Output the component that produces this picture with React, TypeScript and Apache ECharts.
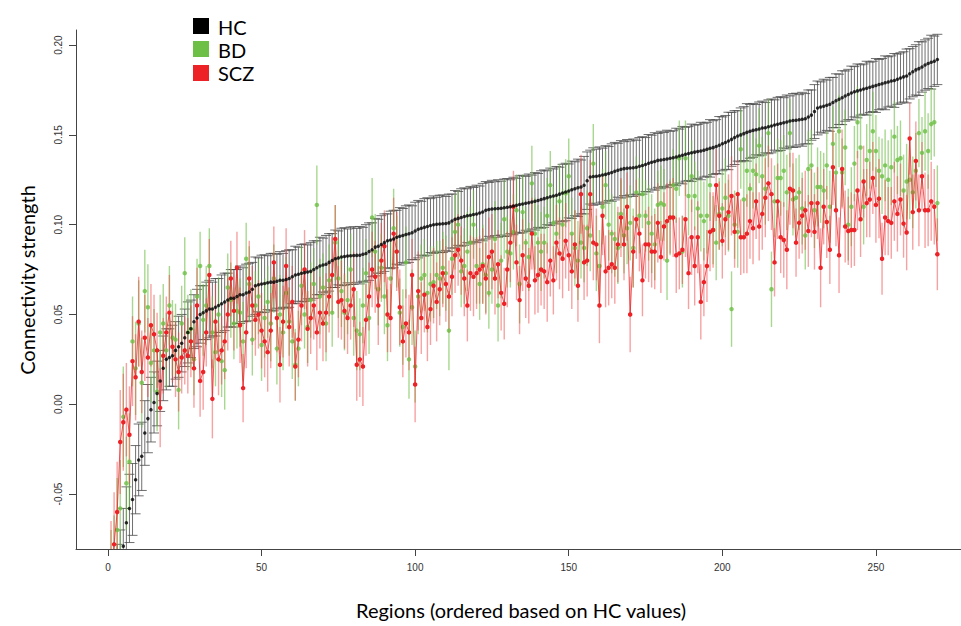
import React, { useEffect, useRef } from "react";
import * as echarts from "echarts";

// Connectivity strength per region (regions ordered by HC value)
const HC = [
  -0.130,-0.115,-0.100,-0.090,-0.079,-0.066,-0.058,-0.053,-0.042,-0.031,
  -0.029,-0.016,-0.008,-0.003,0.001,0.006,0.013,0.020,0.025,0.026,
  0.027,0.030,0.032,0.034,0.037,0.040,0.042,0.046,0.048,0.050,
  0.051,0.052,0.053,0.053,0.054,0.055,0.056,0.057,0.058,0.059,
  0.059,0.060,0.061,0.061,0.062,0.0625,0.064,0.066,0.0665,0.067,
  0.0672,0.0677,0.068,0.068,0.0685,0.069,0.069,0.0695,0.070,0.071,
  0.072,0.0724,0.073,0.0733,0.0737,0.074,0.075,0.076,0.077,0.0775,
  0.078,0.079,0.080,0.081,0.0815,0.082,0.0823,0.0826,0.0827,0.0828,
  0.0829,0.083,0.0835,0.084,0.085,0.086,0.0875,0.088,0.089,0.090,
  0.091,0.0915,0.092,0.093,0.0935,0.094,0.0945,0.095,0.0955,0.0965,
  0.0975,0.098,0.0985,0.099,0.0995,0.100,0.1002,0.1004,0.1005,0.1007,
  0.101,0.102,0.103,0.1035,0.104,0.1045,0.105,0.1053,0.1057,0.106,
  0.1065,0.107,0.108,0.1085,0.1087,0.1089,0.109,0.1092,0.1094,0.1097,
  0.110,0.1104,0.1108,0.1112,0.1115,0.1119,0.1122,0.1126,0.113,0.1135,
  0.114,0.1145,0.115,0.1155,0.116,0.1164,0.117,0.1176,0.1182,0.1188,
  0.1194,0.120,0.1205,0.121,0.122,0.1245,0.1265,0.1268,0.127,0.1273,
  0.1276,0.128,0.1285,0.129,0.1298,0.1303,0.1308,0.1312,0.1314,0.1316,
  0.1317,0.132,0.1325,0.133,0.1335,0.1342,0.1348,0.1352,0.1358,0.136,
  0.1363,0.1366,0.137,0.1373,0.1377,0.1382,0.1387,0.1392,0.1396,0.140,
  0.1404,0.1408,0.141,0.1415,0.142,0.1425,0.1429,0.1435,0.1442,0.145,
  0.1458,0.1466,0.1475,0.1485,0.1494,0.150,0.1507,0.1514,0.152,0.1525,
  0.1529,0.1533,0.1538,0.154,0.1545,0.155,0.1555,0.1559,0.1563,0.1567,
  0.1572,0.1577,0.158,0.1582,0.1584,0.1587,0.159,0.160,0.161,0.163,
  0.165,0.1655,0.166,0.1665,0.167,0.168,0.169,0.1698,0.1707,0.1716,
  0.1725,0.1733,0.174,0.1745,0.175,0.1755,0.176,0.1765,0.177,0.1775,
  0.178,0.1785,0.179,0.1795,0.180,0.1803,0.181,0.1817,0.1823,0.1828,
  0.184,0.1852,0.1862,0.1869,0.1878,0.1889,0.1898,0.1905,0.191,0.192
];

const BD = [
  -0.100,-0.090,-0.070,-0.058,-0.007,-0.044,-0.032,0.035,0.020,0.045,
  0.012,0.063,0.054,0.023,0.030,0.007,0.040,0.045,0.030,0.055,
  0.037,0.036,0.008,0.045,0.073,0.040,0.042,0.025,0.060,0.077,
  0.047,0.055,0.077,0.040,0.029,0.050,0.024,0.019,0.065,0.058,
  0.045,0.052,0.051,0.035,0.081,0.067,0.036,0.055,0.060,0.033,
  0.048,0.057,0.045,0.070,0.031,0.050,0.040,0.062,0.046,0.035,
  0.022,0.031,0.066,0.050,0.043,0.058,0.067,0.111,0.060,0.065,
  0.045,0.069,0.051,0.090,0.070,0.063,0.051,0.058,0.075,0.048,
  0.041,0.039,0.055,0.073,0.048,0.104,0.085,0.064,0.076,0.060,
  0.044,0.070,0.098,0.085,0.051,0.043,0.079,0.025,0.054,0.021,
  0.060,0.070,0.072,0.062,0.067,0.068,0.072,0.070,0.076,0.073,
  0.041,0.081,0.096,0.100,0.074,0.077,0.085,0.090,0.100,0.077,
  0.067,0.078,0.072,0.062,0.075,0.092,0.055,0.080,0.103,0.085,
  0.084,0.096,0.108,0.067,0.107,0.090,0.082,0.123,0.095,0.090,
  0.085,0.090,0.105,0.122,0.101,0.095,0.113,0.100,0.1175,0.127,
  0.095,0.087,0.080,0.090,0.087,0.098,0.094,0.134,0.084,0.077,
  0.110,0.122,0.100,0.095,0.092,0.087,0.106,0.094,0.098,0.101,
  0.087,0.118,0.105,0.117,0.105,0.101,0.095,0.089,0.111,0.112,
  0.111,0.080,0.104,0.122,0.120,0.137,0.085,0.137,0.116,0.127,
  0.116,0.109,0.105,0.102,0.105,0.122,0.097,0.090,0.106,0.109,
  0.115,0.105,0.053,0.100,0.096,0.142,0.114,0.130,0.120,0.130,
  0.128,0.144,0.127,0.120,0.151,0.064,0.113,0.126,0.126,0.130,
  0.118,0.151,0.114,0.115,0.118,0.109,0.094,0.131,0.133,0.108,
  0.121,0.121,0.119,0.133,0.110,0.145,0.129,0.152,0.129,0.143,
  0.100,0.110,0.134,0.157,0.143,0.110,0.136,0.141,0.152,0.141,
  0.130,0.127,0.133,0.125,0.132,0.149,0.136,0.137,0.119,0.124,
  0.125,0.118,0.130,0.151,0.140,0.152,0.141,0.156,0.157,0.112
];

const SCZ = [
  -0.095,-0.078,-0.060,-0.021,-0.010,-0.003,-0.017,0.024,0.015,0.046,
  0.018,0.037,0.026,0.044,0.039,0.030,-0.002,0.027,0.040,0.051,
  0.032,0.025,0.018,0.026,0.030,0.027,0.035,0.020,0.055,0.013,
  0.018,0.040,0.072,0.003,0.046,0.025,0.030,0.035,0.050,0.070,
  0.052,0.076,0.044,0.009,0.040,0.070,0.055,0.047,0.050,0.041,
  0.035,0.029,0.041,0.079,0.048,0.022,0.046,0.077,0.043,0.057,
  0.021,0.036,0.055,0.075,0.042,0.048,0.055,0.040,0.051,0.045,
  0.051,0.060,0.072,0.092,0.057,0.058,0.052,0.048,0.055,0.064,
  0.022,0.025,0.021,0.047,0.060,0.075,0.071,0.055,0.080,0.088,
  0.050,0.048,0.095,0.085,0.054,0.035,0.045,0.040,0.072,0.011,
  0.063,0.048,0.061,0.043,0.053,0.066,0.057,0.064,0.073,0.067,
  0.060,0.071,0.083,0.086,0.080,0.070,0.055,0.073,0.071,0.073,
  0.075,0.077,0.070,0.082,0.085,0.070,0.078,0.062,0.056,0.075,
  0.090,0.110,0.079,0.058,0.083,0.070,0.066,0.095,0.069,0.072,
  0.075,0.074,0.068,0.080,0.069,0.090,0.084,0.081,0.091,0.083,
  0.074,0.089,0.066,0.117,0.079,0.080,0.117,0.090,0.089,0.055,
  0.105,0.074,0.076,0.078,0.076,0.089,0.104,0.089,0.110,0.050,
  0.085,0.103,0.095,0.069,0.089,0.089,0.085,0.085,0.101,0.082,
  0.099,0.102,0.104,0.104,0.083,0.084,0.086,0.103,0.073,0.093,
  0.077,0.093,0.057,0.068,0.077,0.096,0.097,0.122,0.105,0.091,
  0.103,0.107,0.116,0.096,0.117,0.093,0.093,0.095,0.102,0.098,
  0.113,0.099,0.106,0.115,0.123,0.117,0.079,0.113,0.093,0.0915,
  0.086,0.120,0.119,0.090,0.101,0.105,0.108,0.0965,0.112,0.096,
  0.112,0.076,0.110,0.1015,0.086,0.132,0.108,0.083,0.131,0.099,
  0.0965,0.097,0.097,0.119,0.103,0.124,0.112,0.114,0.126,0.111,
  0.1145,0.081,0.104,0.102,0.101,0.113,0.106,0.114,0.1006,0.0956,
  0.148,0.107,0.1355,0.108,0.127,0.108,0.108,0.113,0.110,0.0835
];

// Half-widths of the error bars
const HC_ERR = [
  0.022,0.021,0.022,0.020,0.021,0.020,0.019,0.020,0.019,0.020,
  0.019,0.018,0.019,0.018,0.017,0.018,0.017,0.018,0.017,0.016,
  0.017,0.016,0.017,0.016,0.016,0.017,0.016,0.015,0.016,0.016,
  0.015,0.016,0.016,0.015,0.016,0.015,0.016,0.016,0.015,0.016,
  0.016,0.015,0.016,0.015,0.016,0.016,0.015,0.016,0.015,0.016,
  0.016,0.015,0.016,0.016,0.015,0.016,0.015,0.016,0.016,0.015,
  0.016,0.015,0.016,0.016,0.015,0.016,0.016,0.015,0.016,0.015,
  0.016,0.016,0.015,0.016,0.015,0.016,0.016,0.015,0.016,0.016,
  0.015,0.016,0.015,0.016,0.016,0.015,0.016,0.015,0.016,0.016,
  0.015,0.016,0.016,0.015,0.016,0.015,0.016,0.016,0.015,0.016,
  0.016,0.015,0.016,0.016,0.015,0.016,0.015,0.016,0.016,0.015,
  0.016,0.015,0.016,0.015,0.016,0.016,0.015,0.016,0.015,0.016,
  0.015,0.016,0.016,0.015,0.016,0.015,0.016,0.015,0.016,0.016,
  0.015,0.016,0.015,0.016,0.016,0.015,0.016,0.015,0.016,0.015,
  0.016,0.016,0.015,0.016,0.015,0.016,0.015,0.016,0.016,0.015,
  0.016,0.015,0.016,0.015,0.016,0.016,0.015,0.016,0.015,0.016,
  0.015,0.016,0.015,0.016,0.016,0.015,0.016,0.015,0.016,0.015,
  0.016,0.015,0.016,0.016,0.015,0.016,0.015,0.016,0.015,0.016,
  0.015,0.016,0.015,0.015,0.016,0.015,0.016,0.015,0.015,0.016,
  0.015,0.015,0.016,0.015,0.015,0.016,0.015,0.015,0.016,0.015,
  0.015,0.016,0.015,0.015,0.014,0.015,0.015,0.016,0.015,0.015,
  0.014,0.015,0.015,0.014,0.015,0.015,0.014,0.015,0.015,0.014,
  0.015,0.014,0.015,0.015,0.014,0.015,0.014,0.015,0.014,0.015,
  0.015,0.014,0.015,0.014,0.015,0.014,0.015,0.014,0.015,0.014,
  0.014,0.015,0.014,0.015,0.014,0.014,0.015,0.014,0.014,0.015,
  0.014,0.014,0.015,0.014,0.014,0.015,0.014,0.014,0.014,0.015,
  0.014,0.014,0.014,0.015,0.014,0.014,0.014,0.015,0.014,0.014
];

const BD_ERR = [
  0.030,0.028,0.029,0.027,0.028,0.026,0.027,0.025,0.026,0.024,
  0.025,0.023,0.024,0.022,0.023,0.022,0.021,0.022,0.021,0.022,
  0.021,0.020,0.022,0.021,0.020,0.021,0.022,0.020,0.021,0.019,
  0.020,0.022,0.021,0.020,0.019,0.021,0.020,0.022,0.019,0.021,
  0.020,0.021,0.019,0.022,0.020,0.021,0.020,0.019,0.021,0.020,
  0.022,0.020,0.021,0.019,0.020,0.022,0.021,0.020,0.019,0.021,
  0.020,0.021,0.022,0.019,0.020,0.021,0.020,0.022,0.021,0.019,
  0.021,0.020,0.019,0.021,0.022,0.020,0.021,0.019,0.020,0.021,
  0.022,0.020,0.021,0.019,0.020,0.022,0.021,0.020,0.019,0.021,
  0.020,0.021,0.022,0.020,0.019,0.021,0.020,0.022,0.021,0.020,
  0.021,0.019,0.020,0.022,0.021,0.020,0.019,0.021,0.020,0.021,
  0.022,0.020,0.021,0.019,0.020,0.021,0.022,0.020,0.019,0.021,
  0.020,0.022,0.021,0.020,0.019,0.021,0.020,0.021,0.022,0.020,
  0.019,0.021,0.020,0.022,0.021,0.020,0.019,0.021,0.020,0.021,
  0.022,0.020,0.021,0.019,0.020,0.022,0.021,0.020,0.019,0.021,
  0.020,0.021,0.022,0.020,0.019,0.021,0.020,0.022,0.021,0.020,
  0.021,0.019,0.020,0.022,0.021,0.020,0.019,0.021,0.020,0.021,
  0.022,0.020,0.021,0.019,0.020,0.021,0.022,0.020,0.019,0.021,
  0.020,0.022,0.021,0.020,0.019,0.021,0.020,0.021,0.022,0.020,
  0.019,0.021,0.020,0.022,0.021,0.020,0.019,0.021,0.020,0.021,
  0.022,0.020,0.021,0.019,0.020,0.022,0.021,0.020,0.019,0.021,
  0.020,0.021,0.022,0.020,0.019,0.021,0.020,0.022,0.021,0.020,
  0.021,0.019,0.020,0.022,0.021,0.020,0.019,0.021,0.020,0.021,
  0.022,0.020,0.021,0.019,0.020,0.021,0.022,0.020,0.019,0.021,
  0.020,0.022,0.021,0.020,0.019,0.021,0.020,0.021,0.022,0.020,
  0.019,0.021,0.020,0.022,0.021,0.020,0.019,0.021,0.020,0.021,
  0.022,0.020,0.021,0.019,0.020,0.022,0.021,0.020,0.019,0.021
];

const SCZ_ERR = [
  0.030,0.029,0.028,0.029,0.027,0.026,0.027,0.025,0.024,0.025,
  0.023,0.024,0.022,0.023,0.022,0.021,0.022,0.021,0.020,0.021,
  0.020,0.021,0.022,0.020,0.019,0.021,0.020,0.022,0.021,0.020,
  0.021,0.019,0.020,0.022,0.021,0.020,0.019,0.021,0.020,0.021,
  0.022,0.020,0.021,0.019,0.020,0.021,0.022,0.020,0.019,0.021,
  0.020,0.022,0.021,0.020,0.019,0.021,0.020,0.021,0.022,0.020,
  0.019,0.021,0.020,0.022,0.021,0.020,0.019,0.021,0.020,0.021,
  0.022,0.020,0.021,0.019,0.020,0.022,0.021,0.020,0.019,0.021,
  0.020,0.021,0.022,0.020,0.019,0.021,0.020,0.022,0.021,0.020,
  0.021,0.019,0.020,0.022,0.021,0.020,0.019,0.021,0.020,0.021,
  0.022,0.020,0.021,0.019,0.020,0.021,0.022,0.020,0.019,0.021,
  0.020,0.022,0.021,0.020,0.019,0.021,0.020,0.021,0.022,0.020,
  0.019,0.021,0.020,0.022,0.021,0.020,0.019,0.021,0.020,0.021,
  0.022,0.020,0.021,0.019,0.020,0.022,0.021,0.020,0.019,0.021,
  0.020,0.021,0.022,0.020,0.019,0.021,0.020,0.022,0.021,0.020,
  0.021,0.019,0.020,0.022,0.021,0.020,0.019,0.021,0.020,0.021,
  0.022,0.020,0.021,0.019,0.020,0.021,0.022,0.020,0.019,0.021,
  0.020,0.022,0.021,0.020,0.019,0.021,0.020,0.021,0.022,0.020,
  0.019,0.021,0.020,0.022,0.021,0.020,0.019,0.021,0.020,0.021,
  0.022,0.020,0.021,0.019,0.020,0.022,0.021,0.020,0.019,0.021,
  0.020,0.021,0.022,0.020,0.019,0.021,0.020,0.022,0.021,0.020,
  0.021,0.019,0.020,0.022,0.021,0.020,0.019,0.021,0.020,0.021,
  0.022,0.020,0.021,0.019,0.020,0.021,0.022,0.020,0.019,0.021,
  0.020,0.022,0.021,0.020,0.019,0.021,0.020,0.021,0.022,0.020,
  0.019,0.021,0.020,0.022,0.021,0.020,0.019,0.021,0.020,0.021,
  0.022,0.020,0.021,0.019,0.020,0.022,0.021,0.020,0.019,0.021,
  0.020,0.021,0.022,0.020,0.019,0.021,0.020,0.022,0.021,0.020
];

const X_TICKS = [0, 50, 100, 150, 200, 250];
const Y_TICKS = [-0.05, 0, 0.05, 0.1, 0.15, 0.2];
const LEGEND = ["HC", "BD", "SCZ"];

const C_HC = "#000000";
const C_BD = "#6dbf45";
const C_SCZ = "#ec2227";

function errData(vals: number[], errs: number[]) {
  return vals.map((v, i) => [i + 1, v - errs[i], v + errs[i]]);
}

function errRender(cap: number, color: string, width: number) {
  return (_params: any, api: any) => {
    const x = api.value(0);
    const lo = api.coord([x, api.value(1)]);
    const hi = api.coord([x, api.value(2)]);
    const style = { stroke: color, lineWidth: width, fill: "none" };
    const children: any[] = [
      { type: "line", shape: { x1: lo[0], y1: lo[1], x2: hi[0], y2: hi[1] }, style },
    ];
    if (cap > 0) {
      children.push({ type: "line", shape: { x1: hi[0] - cap, y1: hi[1], x2: hi[0] + cap, y2: hi[1] }, style });
      children.push({ type: "line", shape: { x1: lo[0] - cap, y1: lo[1], x2: lo[0] + cap, y2: lo[1] }, style });
    }
    return { type: "group", children };
  };
}

export default function App() {
  const ref = useRef<HTMLDivElement>(null);
  useEffect(() => {
    if (!ref.current) return;
    const chart = echarts.init(ref.current, undefined, { renderer: "svg" });
    const pts = (vals: number[]) => vals.map((v, i) => [i + 1, v]);
    const tickFont = { fontFamily: "Liberation Sans", fontSize: 10, color: "#333" };
    chart.setOption({
      animation: false,
      backgroundColor: "#ffffff",
      grid: { left: 76, right: 0, top: 30, bottom: 77, containLabel: false },
      xAxis: {
        type: "value",
        min: -10.4,
        max: 277.7,
        splitLine: { show: false },
        axisLine: { show: true, onZero: false, lineStyle: { color: "#444", width: 1 } },
        axisTick: { show: true, length: 7, customValues: X_TICKS, lineStyle: { color: "#444" } },
        axisLabel: { ...tickFont, margin: 13, customValues: X_TICKS, formatter: (v: number) => String(v) },
      },
      yAxis: {
        type: "value",
        min: -0.0806,
        max: 0.2084,
        splitLine: { show: false },
        axisLine: { show: true, onZero: false, lineStyle: { color: "#444", width: 1 } },
        axisTick: { show: true, length: 7, customValues: Y_TICKS, lineStyle: { color: "#444" } },
        axisLabel: { ...tickFont, margin: 13, rotate: 90, customValues: Y_TICKS, formatter: (v: number) => v.toFixed(2) },
      },
      graphic: [
        { type: "text", x: 27, y: 280, rotation: Math.PI / 2, style: { text: "Connectivity strength", fontFamily: "Lato", fontSize: 20, fill: "#000", textAlign: "center", textVerticalAlign: "middle" } },
        { type: "text", x: 521, y: 610, style: { text: "Regions (ordered based on HC values)", fontFamily: "Lato", fontSize: 20, fill: "#000", textAlign: "center", textVerticalAlign: "middle" } },
        { type: "rect", shape: { x: 193, y: 18, width: 16, height: 16 }, style: { fill: C_HC } },
        { type: "rect", shape: { x: 193, y: 41, width: 16, height: 16 }, style: { fill: C_BD } },
        { type: "rect", shape: { x: 193, y: 65, width: 16, height: 16 }, style: { fill: C_SCZ } },
        { type: "text", x: 218, y: 27, style: { text: LEGEND[0], fontFamily: "Lato", fontSize: 20, fill: "#000", textVerticalAlign: "middle" } },
        { type: "text", x: 218, y: 49.5, style: { text: LEGEND[1], fontFamily: "Lato", fontSize: 20, fill: "#000", textVerticalAlign: "middle" } },
        { type: "text", x: 218, y: 73, style: { text: LEGEND[2], fontFamily: "Lato", fontSize: 20, fill: "#000", textVerticalAlign: "middle" } },
      ],
      series: [
        {
          name: "HC err", type: "custom", clip: true, z: 1,
          renderItem: errRender(5, "#4a4a4a", 0.8),
          encode: { x: 0, y: [1, 2] },
          data: errData(HC, HC_ERR),
        },
        {
          name: "BD err", type: "custom", clip: true, z: 2,
          renderItem: errRender(0, "rgba(110,190,70,0.6)", 1.4),
          encode: { x: 0, y: [1, 2] },
          data: errData(BD, BD_ERR),
        },
        {
          name: "SCZ err", type: "custom", clip: true, z: 3,
          renderItem: errRender(0, "rgba(240,70,70,0.5)", 1.4),
          encode: { x: 0, y: [1, 2] },
          data: errData(SCZ, SCZ_ERR),
        },
        {
          name: LEGEND[1], type: "scatter", clip: true, z: 4,
          symbol: "circle", symbolSize: 4.5,
          itemStyle: { color: C_BD },
          data: pts(BD),
        },
        {
          name: LEGEND[2], type: "line", clip: true, z: 5,
          symbol: "circle", symbolSize: 4.5, showSymbol: true,
          lineStyle: { color: "rgba(236,34,39,0.75)", width: 1 },
          itemStyle: { color: C_SCZ },
          data: pts(SCZ),
        },
        {
          name: LEGEND[0], type: "scatter", clip: true, z: 6,
          symbol: "circle", symbolSize: 3.5,
          itemStyle: { color: C_HC },
          data: pts(HC),
        },
      ],
    });
    return () => chart.dispose();
  }, []);
  return <div ref={ref} style={{ position: "fixed", left: 0, top: 0, width: 961, height: 626 }} />;
}
